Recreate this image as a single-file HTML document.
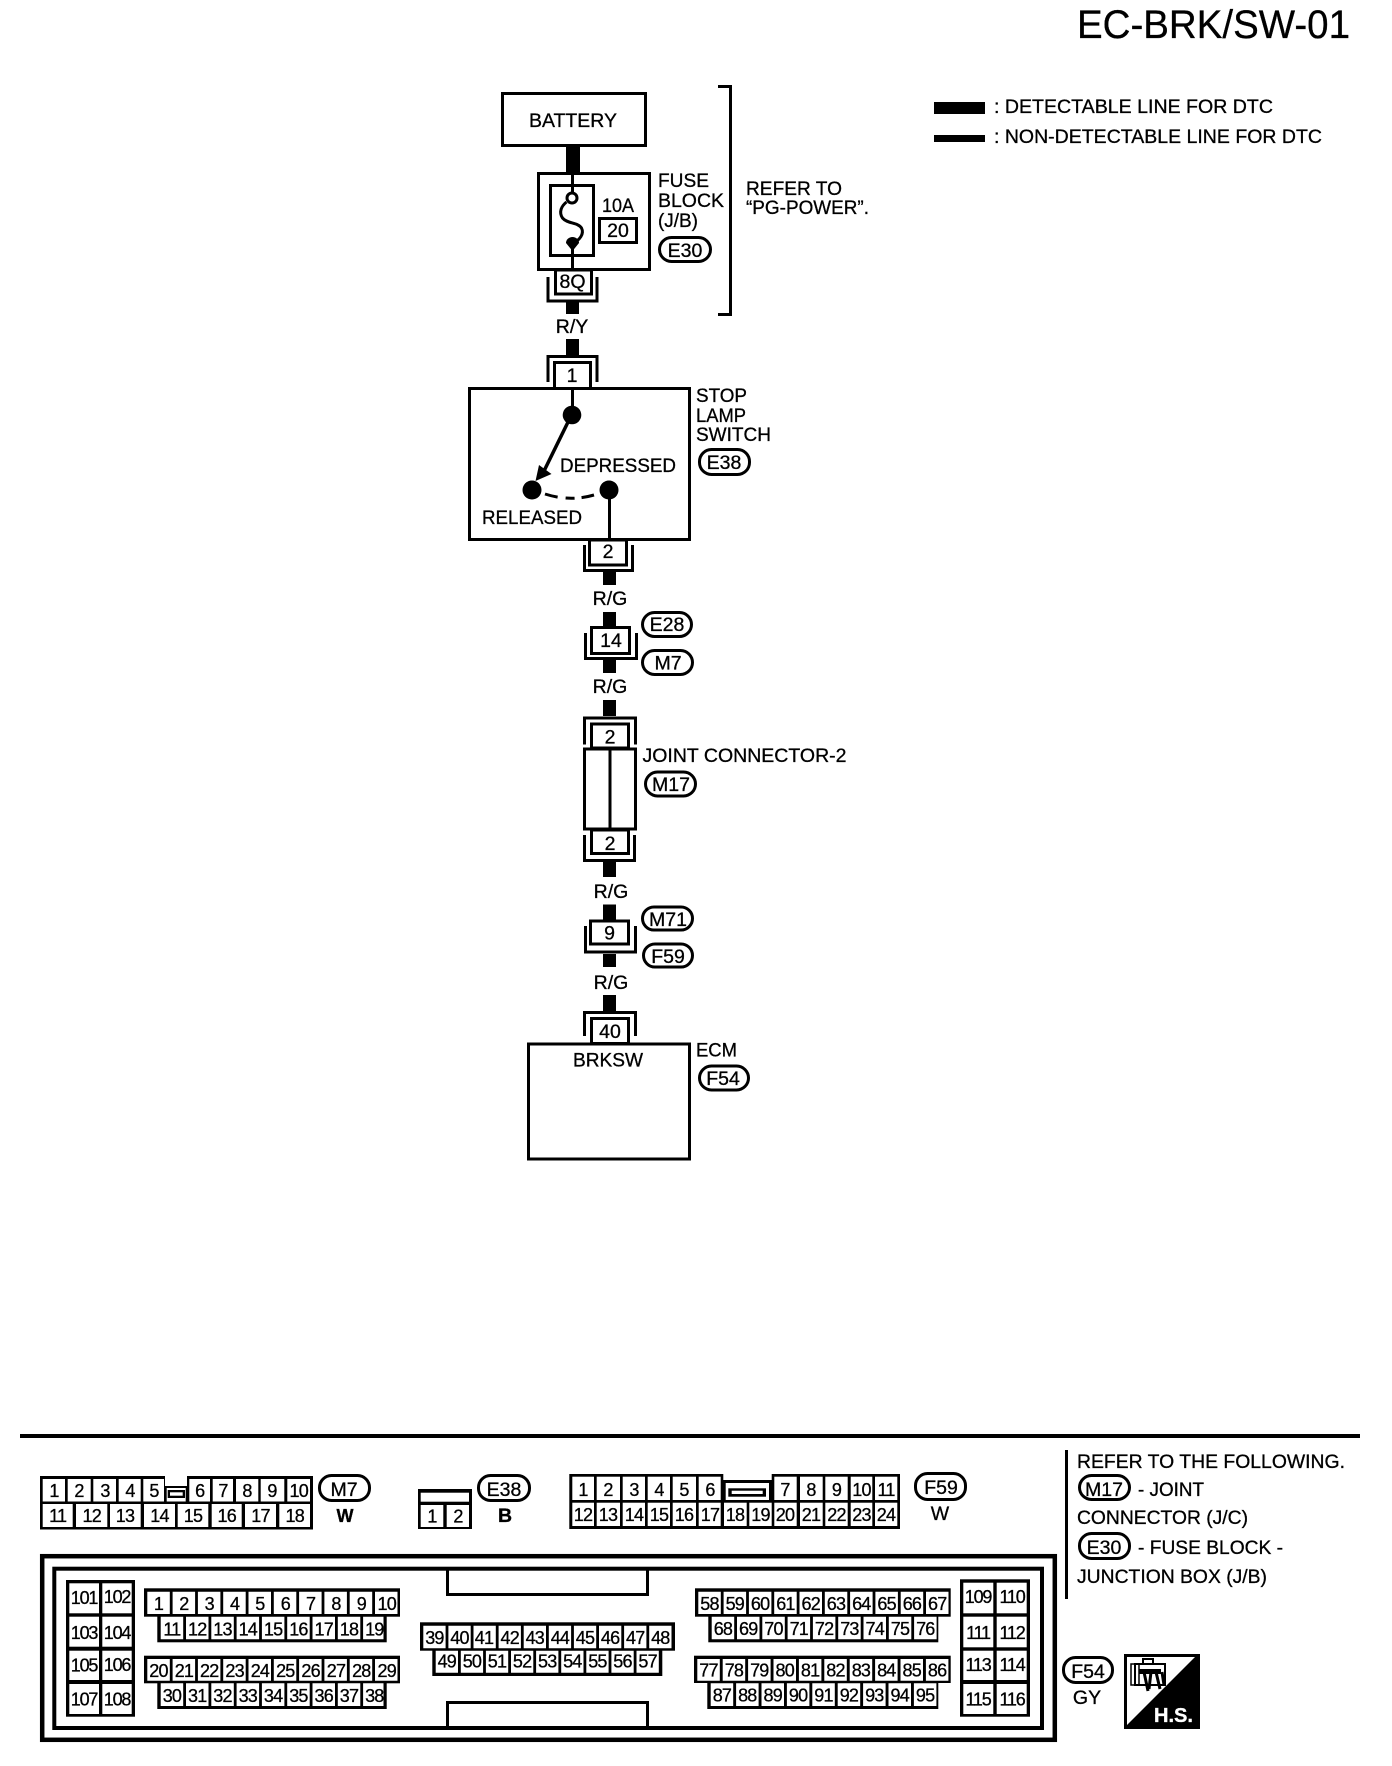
<!DOCTYPE html>
<html><head><meta charset="utf-8"><title>EC-BRK/SW-01</title>
<style>
html,body{margin:0;padding:0;background:#fff}
svg{display:block}
text{font-family:"Liberation Sans",sans-serif;fill:#000;stroke:#000;stroke-width:.3px}
.l{font-size:19.5px}
.c{font-size:19.5px;text-anchor:middle}
.n{font-size:18px;text-anchor:middle;letter-spacing:-.8px}
.t{font-size:18px;text-anchor:middle;letter-spacing:-1.2px}
.b{fill:none;stroke:#000;stroke-width:3}
.w{fill:#fff;stroke:#000;stroke-width:3}
.p{fill:#fff;stroke:#000;stroke-width:3}
.d{stroke:#fff;stroke-dasharray:22.5 2.8;fill:none}
</style></head><body>
<svg xmlns="http://www.w3.org/2000/svg" width="1392" height="1766" viewBox="0 0 1392 1766">
<rect width="1392" height="1766" fill="#fff"/>

<!-- header -->
<text x="1077" y="38" font-size="40" textLength="273" lengthAdjust="spacingAndGlyphs">EC-BRK/SW-01</text>
<rect x="934" y="102" width="51" height="12"/>
<rect x="934" y="135" width="51" height="7"/>
<text class="l" x="994" y="113" textLength="279" lengthAdjust="spacingAndGlyphs">: DETECTABLE LINE FOR DTC</text>
<text class="l" x="994" y="143" textLength="328" lengthAdjust="spacingAndGlyphs">: NON-DETECTABLE LINE FOR DTC</text>

<!-- battery / fuse -->
<rect x="566" y="147" width="14" height="26"/>
<rect class="b" x="502.5" y="93.5" width="143" height="52"/>
<text x="573" y="127" class="c" textLength="88" lengthAdjust="spacingAndGlyphs">BATTERY</text>
<rect class="b" x="538.5" y="173.5" width="111" height="96"/>
<rect class="b" x="550.5" y="185.5" width="43" height="70"/>
<line x1="572.5" y1="172" x2="572.5" y2="193" stroke="#000" stroke-width="3"/>
<line x1="572.5" y1="243" x2="572.5" y2="270" stroke="#000" stroke-width="3"/>
<circle cx="572" cy="198" r="5" fill="#fff" stroke="#000" stroke-width="3"/>
<path d="M566.5 202C561.500 206 558.500 212 562.500 218C567.500 224 577.500 222 581.500 228C584.500 234 579.500 240 573.500 243" fill="none" stroke="#000" stroke-width="3"/>
<path d="M566 243a6.5 6 0 0 1 13 0L572.500 251Z"/>
<text class="l" x="602" y="212" textLength="32" lengthAdjust="spacingAndGlyphs">10A</text>
<rect class="b" x="599.5" y="218.5" width="37" height="24"/>
<text class="c" x="618" y="237">20</text>
<text class="l" x="658" y="187" textLength="51" lengthAdjust="spacingAndGlyphs">FUSE</text>
<text class="l" x="658" y="207" textLength="66" lengthAdjust="spacingAndGlyphs">BLOCK</text>
<text class="l" x="658" y="227" textLength="40" lengthAdjust="spacingAndGlyphs">(J/B)</text>
<rect class="p" x="659.5" y="237.5" width="51" height="24" rx="12"/>
<text class="c" x="685" y="257">E30</text>
<path class="b" d="M718 86.5H730.5V314.5H718"/>
<text class="l" x="746" y="195" textLength="96" lengthAdjust="spacingAndGlyphs">REFER TO</text>
<text class="l" x="746" y="214" textLength="123" lengthAdjust="spacingAndGlyphs">“PG-POWER”.</text>

<rect class="w" x="555.5" y="270" width="36" height="24"/>
<text class="c" x="572.5" y="288">8Q</text>
<path class="b" d="M548 277V301H597V277"/>
<rect x="566" y="302" width="13" height="12"/>
<text class="c" x="572" y="333">R/Y</text>
<rect x="566" y="339" width="13" height="16"/>
<path class="b" d="M548 382V356.5H597V382"/>
<rect class="w" x="554.5" y="362.5" width="36" height="26"/>
<text class="c" x="572" y="382">1</text>

<!-- stop lamp switch -->
<rect class="w" x="469.5" y="388.5" width="220" height="151"/>
<line x1="572.5" y1="388" x2="572.5" y2="410" stroke="#000" stroke-width="3"/>
<circle cx="572" cy="415" r="9.3"/>
<line x1="570" y1="418" x2="544" y2="471" stroke="#000" stroke-width="3.500"/>
<path d="M535.500 481L539 465L551.500 474Z"/>
<circle cx="532" cy="490" r="9.5"/>
<circle cx="609" cy="490" r="9.5"/>
<path d="M545 494Q570 502 594 495" fill="none" stroke="#000" stroke-width="3" stroke-dasharray="13 8 9 7 13"/>
<line x1="609.500" y1="490" x2="609.500" y2="540" stroke="#000" stroke-width="3"/>
<text class="l" x="560" y="472" textLength="116" lengthAdjust="spacingAndGlyphs">DEPRESSED</text>
<text class="l" x="482" y="524" textLength="100" lengthAdjust="spacingAndGlyphs">RELEASED</text>
<text class="l" x="696" y="402" textLength="51" lengthAdjust="spacingAndGlyphs">STOP</text>
<text class="l" x="696" y="422" textLength="50" lengthAdjust="spacingAndGlyphs">LAMP</text>
<text class="l" x="696" y="441" textLength="75" lengthAdjust="spacingAndGlyphs">SWITCH</text>
<rect class="p" x="699.5" y="449.5" width="50" height="25" rx="12"/>
<text class="c" x="724" y="469">E38</text>

<rect class="w" x="589.500" y="540" width="37" height="25"/>
<text class="c" x="608" y="558">2</text>
<path class="b" d="M584.500 545V570.500H632.500V545"/>

<rect x="603" y="570" width="13" height="15"/>
<text class="c" x="610" y="605">R/G</text>
<rect x="603" y="612" width="13" height="14"/>
<rect class="p" x="642.500" y="612.500" width="49" height="24" rx="12"/>
<text class="c" x="667" y="631">E28</text>
<rect class="w" x="591.500" y="627.500" width="38" height="26"/>
<text class="c" x="611" y="647">14</text>
<path class="b" d="M585.500 633V658.500H636.500V633"/>
<rect class="p" x="642.500" y="650.500" width="50" height="24" rx="12"/>
<text class="c" x="668" y="669.500">M7</text>
<rect x="603" y="660" width="13" height="13"/>
<text class="c" x="610" y="693">R/G</text>
<rect x="603" y="700" width="13" height="16"/>

<!-- joint connector -->
<path class="b" d="M584.500 744.500V718H635.500V744.500"/>
<rect class="w" x="591.500" y="724" width="37" height="24"/>
<text class="c" x="610" y="743.500">2</text>
<rect class="w" x="584.500" y="749" width="51" height="80"/>
<line x1="610" y1="749" x2="610" y2="830" stroke="#000" stroke-width="3"/>
<text class="l" x="642.500" y="762" textLength="204" lengthAdjust="spacingAndGlyphs">JOINT CONNECTOR-2</text>
<rect class="p" x="645.500" y="772" width="50" height="24" rx="12"/>
<text class="c" x="671" y="791">M17</text>
<rect class="w" x="591.500" y="830" width="37" height="23.500"/>
<text class="c" x="610" y="850">2</text>
<path class="b" d="M584.500 835V860.500H634.500V835"/>
<rect x="603" y="862" width="13" height="15"/>
<text class="c" x="611" y="898">R/G</text>
<rect x="603" y="904.500" width="13" height="16"/>
<rect class="p" x="642.500" y="907" width="50" height="23" rx="11.500"/>
<text class="c" x="668" y="926">M71</text>
<rect class="w" x="590.500" y="921" width="38" height="23"/>
<text class="c" x="609.500" y="939.500">9</text>
<path class="b" d="M585.500 926V952H635.500V926"/>
<rect class="p" x="643.500" y="944" width="49" height="23" rx="11.500"/>
<text class="c" x="668" y="963">F59</text>
<rect x="603" y="954" width="13" height="13"/>
<text class="c" x="611" y="989">R/G</text>
<rect x="603" y="995" width="13" height="16"/>
<path class="b" d="M584.500 1036V1012.500H635.500V1036"/>
<rect class="w" x="591.500" y="1018.500" width="37" height="25"/>
<text class="c" x="610" y="1038">40</text>

<!-- ECM -->
<rect class="w" x="528.500" y="1044" width="161" height="115"/>
<text class="c" x="608" y="1066.500" textLength="70" lengthAdjust="spacingAndGlyphs">BRKSW</text>
<text class="l" x="696" y="1056.500" textLength="41" lengthAdjust="spacingAndGlyphs">ECM</text>
<rect class="p" x="699.500" y="1066" width="49" height="24" rx="12"/>
<text class="c" x="723" y="1085">F54</text>

<!-- divider -->
<rect x="20" y="1434" width="1340" height="4"/>

<!-- M7 connector -->
<path d="M40 1476H165V1486H187V1476H313V1529.500H40Z"/>
<g fill="#fff">
<rect x="42.700" y="1479" width="22.300" height="22.500"/><rect x="67.700" y="1479" width="23" height="22.500"/><rect x="93.300" y="1479" width="22.700" height="22.500"/><rect x="118.700" y="1479" width="22" height="22.500"/><rect x="143.300" y="1479" width="20.700" height="22.500"/>
<rect x="166.700" y="1488" width="19" height="13.500"/>
<rect x="189.300" y="1479" width="20.700" height="22.500"/><rect x="212.700" y="1479" width="20.300" height="22.500"/><rect x="236" y="1479" width="22.300" height="22.500"/><rect x="260.700" y="1479" width="23.600" height="22.500"/><rect x="287.300" y="1479" width="22.700" height="22.500"/>
<rect x="42.700" y="1504" width="30" height="23"/><rect x="76" y="1504" width="31.300" height="23"/><rect x="110" y="1504" width="30.700" height="23"/><rect x="144" y="1504" width="31" height="23"/><rect x="177.700" y="1504" width="30.600" height="23"/><rect x="211.700" y="1504" width="30" height="23"/><rect x="245" y="1504" width="31" height="23"/><rect x="279.300" y="1504" width="30.700" height="23"/>
</g>
<rect x="167.700" y="1490" width="17.300" height="8"/><rect x="170" y="1492.300" width="12.700" height="3.400" fill="#fff"/>
<text class="n" x="54" y="1497">1</text><text class="n" x="79" y="1497">2</text><text class="n" x="105" y="1497">3</text><text class="n" x="130" y="1497">4</text><text class="n" x="154" y="1497">5</text><text class="n" x="199.700" y="1497">6</text><text class="n" x="223" y="1497">7</text><text class="n" x="247" y="1497">8</text><text class="n" x="272" y="1497">9</text><text class="n" x="298.700" y="1497">10</text>
<text class="n" x="57.700" y="1522">11</text><text class="n" x="91.700" y="1522">12</text><text class="n" x="125" y="1522">13</text><text class="n" x="159.500" y="1522">14</text><text class="n" x="193" y="1522">15</text><text class="n" x="226.700" y="1522">16</text><text class="n" x="260.500" y="1522">17</text><text class="n" x="294.700" y="1522">18</text>
<rect class="p" x="319.500" y="1475.500" width="50" height="25" rx="12"/>
<text class="c" x="344" y="1496">M7</text>
<text class="c" x="345" y="1522" font-weight="bold" style="font-size:18px">W</text>

<!-- E38 connector -->
<rect x="418" y="1489" width="54" height="40"/>
<rect x="420.700" y="1492.700" width="48.300" height="9" fill="#fff"/>
<rect x="420.700" y="1505" width="22.600" height="22" fill="#fff"/><rect x="446.700" y="1505" width="22.300" height="22" fill="#fff"/>
<text class="n" x="432" y="1522.700">1</text><text class="n" x="458" y="1522.700">2</text>
<rect class="p" x="478.500" y="1475.500" width="51" height="25" rx="12"/>
<text class="c" x="504" y="1496">E38</text>
<text class="c" x="505" y="1522" font-weight="bold">B</text>

<!-- F59 connector -->
<path d="M569.300 1474H723.300V1480H771.700V1474H900V1529H569.300Z"/>
<g fill="#fff">
<rect x="572.300" y="1476.700" width="21.700" height="23.300"/><rect x="596.700" y="1476.700" width="23.300" height="23.300"/><rect x="622.700" y="1476.700" width="22.300" height="23.300"/><rect x="647.700" y="1476.700" width="22.300" height="23.300"/><rect x="672.700" y="1476.700" width="23.300" height="23.300"/><rect x="698.700" y="1476.700" width="22" height="23.300"/>
<rect x="725.700" y="1483" width="43.300" height="17"/>
<rect x="774.300" y="1476.700" width="22.400" height="23.300"/><rect x="800" y="1476.700" width="22.700" height="23.300"/><rect x="825.300" y="1476.700" width="22.400" height="23.300"/><rect x="850.700" y="1476.700" width="21.600" height="23.300"/><rect x="875" y="1476.700" width="22.300" height="23.300"/>
<rect x="572.300" y="1502.700" width="21.700" height="23.300"/><rect x="596.700" y="1502.700" width="23.300" height="23.300"/><rect x="622.700" y="1502.700" width="22.300" height="23.300"/><rect x="647.700" y="1502.700" width="22.300" height="23.300"/><rect x="672.700" y="1502.700" width="23.300" height="23.300"/><rect x="698.700" y="1502.700" width="22" height="23.300"/><rect x="724" y="1502.700" width="22.700" height="23.300"/><rect x="749.300" y="1502.700" width="22.400" height="23.300"/><rect x="774.300" y="1502.700" width="22.400" height="23.300"/><rect x="800" y="1502.700" width="22.700" height="23.300"/><rect x="825.300" y="1502.700" width="22.400" height="23.300"/><rect x="850.700" y="1502.700" width="21.600" height="23.300"/><rect x="875" y="1502.700" width="22.300" height="23.300"/>
</g>
<rect x="728.300" y="1488.300" width="37.700" height="8.400"/><rect x="731.700" y="1490.700" width="31" height="3.300" fill="#fff"/>
<text class="n" x="583" y="1496">1</text><text class="n" x="608" y="1496">2</text><text class="n" x="634" y="1496">3</text><text class="n" x="659" y="1496">4</text><text class="n" x="684" y="1496">5</text><text class="n" x="710" y="1496">6</text><text class="n" x="785" y="1496">7</text><text class="n" x="811" y="1496">8</text><text class="n" x="836.500" y="1496">9</text><text class="n" x="861.500" y="1496">10</text><text class="n" x="886" y="1496">11</text>
<text class="n" x="583" y="1521">12</text><text class="n" x="608" y="1521">13</text><text class="n" x="634" y="1521">14</text><text class="n" x="659" y="1521">15</text><text class="n" x="684" y="1521">16</text><text class="n" x="710" y="1521">17</text><text class="n" x="735" y="1521">18</text><text class="n" x="760.500" y="1521">19</text><text class="n" x="785" y="1521">20</text><text class="n" x="811" y="1521">21</text><text class="n" x="836.500" y="1521">22</text><text class="n" x="861.500" y="1521">23</text><text class="n" x="886" y="1521">24</text>
<rect class="p" x="915.500" y="1473.500" width="50" height="26" rx="12"/>
<text class="c" x="941" y="1494">F59</text>
<text class="c" x="940" y="1520">W</text>

<!-- ECM connector frames -->
<rect x="42.200" y="1556.200" width="1012.600" height="183.600" fill="none" stroke="#000" stroke-width="4.500"/>
<rect x="54.300" y="1568.700" width="987.700" height="159.300" fill="none" stroke="#000" stroke-width="4"/>
<path class="b" d="M447.500 1569V1594.500H647.500V1569"/>
<path class="b" d="M447.500 1727V1702.500H647.500V1727"/>

<!-- left block -->
<rect x="66" y="1580" width="69" height="136.700"/>
<g fill="#fff">
<rect x="69.300" y="1583.300" width="29.700" height="30"/><rect x="102.300" y="1583.300" width="29.400" height="30"/>
<rect x="69.300" y="1616.700" width="29.700" height="30"/><rect x="102.300" y="1616.700" width="29.400" height="30"/>
<rect x="69.300" y="1650.700" width="29.700" height="29.300"/><rect x="102.300" y="1650.700" width="29.400" height="29.300"/>
<rect x="69.300" y="1684" width="29.700" height="30"/><rect x="102.300" y="1684" width="29.400" height="30"/>
</g>
<text class="t" x="84" y="1604">101</text><text class="t" x="117" y="1603">102</text><text class="t" x="84" y="1639">103</text><text class="t" x="117" y="1639">104</text><text class="t" x="84" y="1671.500">105</text><text class="t" x="117" y="1671">106</text><text class="t" x="84" y="1705.500">107</text><text class="t" x="117" y="1705.500">108</text>

<!-- block A -->
<rect x="144" y="1588.300" width="256" height="28.400"/><rect x="157.300" y="1616" width="229.400" height="26.300"/>
<line class="d" x1="147.300" y1="1602.850" x2="398" y2="1602.850" stroke-width="22.300"/>
<line class="d" x1="160.700" y1="1628" x2="383.500" y2="1628" stroke-width="22.600"/>
<text class="n" x="158.500" y="1610">1</text><text class="n" x="183.900" y="1610">2</text><text class="n" x="209.200" y="1610">3</text><text class="n" x="234.600" y="1610">4</text><text class="n" x="259.900" y="1610">5</text><text class="n" x="285.300" y="1610">6</text><text class="n" x="310.600" y="1610">7</text><text class="n" x="336" y="1610">8</text><text class="n" x="361.300" y="1610">9</text><text class="n" x="386.700" y="1610">10</text>
<text class="n" x="171.900" y="1635.500">11</text><text class="n" x="197.200" y="1635.500">12</text><text class="n" x="222.500" y="1635.500">13</text><text class="n" x="247.800" y="1635.500">14</text><text class="n" x="273.100" y="1635.500">15</text><text class="n" x="298.400" y="1635.500">16</text><text class="n" x="323.700" y="1635.500">17</text><text class="n" x="349" y="1635.500">18</text><text class="n" x="374.300" y="1635.500">19</text>
<rect x="144" y="1655.700" width="256" height="27.600"/><rect x="157.300" y="1683" width="229.400" height="26"/>
<line class="d" x1="147.300" y1="1669.850" x2="398" y2="1669.850" stroke-width="21.700"/>
<line class="d" x1="160.700" y1="1694.650" x2="383.500" y2="1694.650" stroke-width="22.700"/>
<text class="n" x="158.500" y="1677">20</text><text class="n" x="183.900" y="1677">21</text><text class="n" x="209.200" y="1677">22</text><text class="n" x="234.600" y="1677">23</text><text class="n" x="259.900" y="1677">24</text><text class="n" x="285.300" y="1677">25</text><text class="n" x="310.600" y="1677">26</text><text class="n" x="336" y="1677">27</text><text class="n" x="361.300" y="1677">28</text><text class="n" x="386.700" y="1677">29</text>
<text class="n" x="171.900" y="1702">30</text><text class="n" x="197.200" y="1702">31</text><text class="n" x="222.500" y="1702">32</text><text class="n" x="247.800" y="1702">33</text><text class="n" x="273.100" y="1702">34</text><text class="n" x="298.400" y="1702">35</text><text class="n" x="323.700" y="1702">36</text><text class="n" x="349" y="1702">37</text><text class="n" x="374.300" y="1702">38</text>

<!-- block B -->
<rect x="420" y="1622.300" width="255" height="28.400"/><rect x="432.300" y="1650" width="230" height="26"/>
<line class="d" x1="423.300" y1="1637" x2="672" y2="1637" stroke-width="22.600" style="stroke-dasharray:22.300 2.800"/>
<line class="d" x1="435.700" y1="1661.700" x2="659" y2="1661.700" stroke-width="22" style="stroke-dasharray:22.300 2.800"/>
<text class="n" x="434.400" y="1644">39</text><text class="n" x="459.500" y="1644">40</text><text class="n" x="484" y="1644">41</text><text class="n" x="509.700" y="1644">42</text><text class="n" x="534.800" y="1644">43</text><text class="n" x="559.900" y="1644">44</text><text class="n" x="585" y="1644">45</text><text class="n" x="610.100" y="1644">46</text><text class="n" x="635.200" y="1644">47</text><text class="n" x="660.300" y="1644">48</text>
<text class="n" x="446.800" y="1667.300">49</text><text class="n" x="471.900" y="1667.300">50</text><text class="n" x="497" y="1667.300">51</text><text class="n" x="522.100" y="1667.300">52</text><text class="n" x="547.200" y="1667.300">53</text><text class="n" x="572.300" y="1667.300">54</text><text class="n" x="597.400" y="1667.300">55</text><text class="n" x="622.500" y="1667.300">56</text><text class="n" x="647.600" y="1667.300">57</text>

<!-- block C -->
<rect x="695" y="1588.300" width="255.700" height="28.400"/><rect x="708.300" y="1616" width="230" height="26.300"/>
<line class="d" x1="698.300" y1="1602.850" x2="948.500" y2="1602.850" stroke-width="22.300"/>
<line class="d" x1="711.700" y1="1628" x2="936.600" y2="1628" stroke-width="22.600"/>
<text class="n" x="709.500" y="1610">58</text><text class="n" x="734.800" y="1610">59</text><text class="n" x="760.100" y="1610">60</text><text class="n" x="785.400" y="1610">61</text><text class="n" x="810.700" y="1610">62</text><text class="n" x="836" y="1610">63</text><text class="n" x="861.300" y="1610">64</text><text class="n" x="886.600" y="1610">65</text><text class="n" x="911.900" y="1610">66</text><text class="n" x="937.200" y="1610">67</text>
<text class="n" x="722.900" y="1635">68</text><text class="n" x="748.200" y="1635">69</text><text class="n" x="773.500" y="1635">70</text><text class="n" x="798.800" y="1635">71</text><text class="n" x="824.100" y="1635">72</text><text class="n" x="849.400" y="1635">73</text><text class="n" x="874.700" y="1635">74</text><text class="n" x="900" y="1635">75</text><text class="n" x="925.300" y="1635">76</text>
<rect x="694" y="1655.700" width="256.700" height="27.300"/><rect x="707.300" y="1683" width="231" height="26"/>
<line class="d" x1="697.300" y1="1669.850" x2="949" y2="1669.850" stroke-width="21.700" style="stroke-dasharray:22.500 2.900"/>
<line class="d" x1="710.700" y1="1694.650" x2="937" y2="1694.650" stroke-width="22.700" style="stroke-dasharray:22.500 2.900"/>
<text class="n" x="708.500" y="1676.700">77</text><text class="n" x="733.900" y="1676.700">78</text><text class="n" x="759.300" y="1676.700">79</text><text class="n" x="784.700" y="1676.700">80</text><text class="n" x="810.100" y="1676.700">81</text><text class="n" x="835.500" y="1676.700">82</text><text class="n" x="860.900" y="1676.700">83</text><text class="n" x="886.300" y="1676.700">84</text><text class="n" x="911.700" y="1676.700">85</text><text class="n" x="937.100" y="1676.700">86</text>
<text class="n" x="721.900" y="1701.700">87</text><text class="n" x="747.300" y="1701.700">88</text><text class="n" x="772.700" y="1701.700">89</text><text class="n" x="798.100" y="1701.700">90</text><text class="n" x="823.500" y="1701.700">91</text><text class="n" x="848.900" y="1701.700">92</text><text class="n" x="874.300" y="1701.700">93</text><text class="n" x="899.700" y="1701.700">94</text><text class="n" x="925.100" y="1701.700">95</text>

<!-- right block -->
<rect x="960" y="1579.300" width="70" height="137.400"/>
<g fill="#fff">
<rect x="963.300" y="1582.700" width="30" height="30.600"/><rect x="996.700" y="1582.700" width="30" height="30.600"/>
<rect x="963.300" y="1616.700" width="30" height="30.600"/><rect x="996.700" y="1616.700" width="30" height="30.600"/>
<rect x="963.300" y="1650.700" width="30" height="29.300"/><rect x="996.700" y="1650.700" width="30" height="29.300"/>
<rect x="963.300" y="1684" width="30" height="30"/><rect x="996.700" y="1684" width="30" height="30"/>
</g>
<text class="t" x="978" y="1603">109</text><text class="t" x="1012" y="1603">110</text><text class="t" x="978" y="1639">111</text><text class="t" x="1012" y="1639">112</text><text class="t" x="978" y="1671">113</text><text class="t" x="1012" y="1671">114</text><text class="t" x="978" y="1705.500">115</text><text class="t" x="1012" y="1705.500">116</text>

<!-- right notes -->
<rect x="1065" y="1450" width="3" height="149"/>
<text class="l" x="1077" y="1468" textLength="268" lengthAdjust="spacingAndGlyphs">REFER TO THE FOLLOWING.</text>
<rect class="p" x="1079.500" y="1475.500" width="50" height="24" rx="12"/>
<text class="c" x="1104" y="1496">M17</text>
<text class="l" x="1138" y="1496" textLength="66" lengthAdjust="spacingAndGlyphs">- JOINT</text>
<text class="l" x="1077" y="1524" textLength="171" lengthAdjust="spacingAndGlyphs">CONNECTOR (J/C)</text>
<rect class="p" x="1079.500" y="1533.500" width="50" height="25" rx="12"/>
<text class="c" x="1104" y="1554">E30</text>
<text class="l" x="1138" y="1554" textLength="145" lengthAdjust="spacingAndGlyphs">- FUSE BLOCK -</text>
<text class="l" x="1077" y="1583" textLength="190" lengthAdjust="spacingAndGlyphs">JUNCTION BOX (J/B)</text>

<rect class="p" x="1063.500" y="1657.500" width="49" height="25" rx="12"/>
<text class="c" x="1088" y="1678">F54</text>
<text class="c" x="1087" y="1704">GY</text>

<!-- H.S. icon -->
<rect x="1124" y="1654" width="76" height="75"/>
<path d="M1127 1657H1195L1127 1725Z" fill="#fff"/>
<path d="M1131 1664H1139V1685H1131Z" fill="none" stroke="#000" stroke-width="1.500"/>
<rect x="1135" y="1664" width="30" height="21" fill="none" stroke="#000" stroke-width="2"/>
<path d="M1143 1664V1659H1153V1664" fill="none" stroke="#000" stroke-width="2"/>
<rect x="1139" y="1669" width="22" height="5"/>
<path d="M1144 1672L1148 1691M1151 1672L1149 1689M1156 1672L1160 1689M1162 1672L1164 1685" fill="none" stroke="#000" stroke-width="3"/>
<text x="1154" y="1722" font-size="20" font-weight="bold" textLength="39" lengthAdjust="spacingAndGlyphs" style="fill:#fff;stroke:#fff">H.S.</text>
</svg>
</body></html>
